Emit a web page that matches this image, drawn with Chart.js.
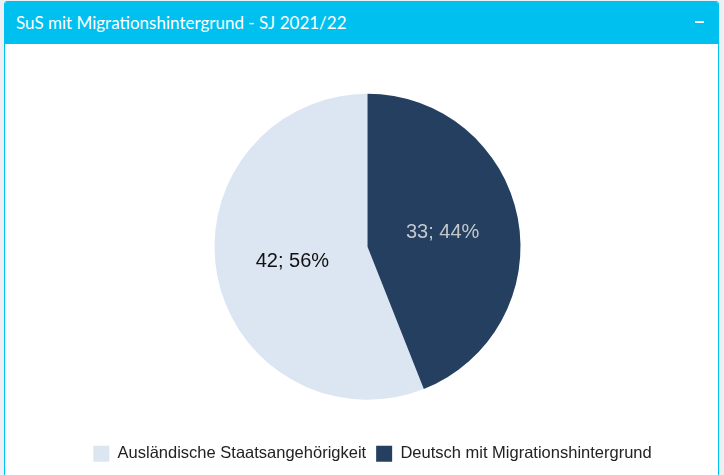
<!DOCTYPE html>
<html>
<head>
<meta charset="utf-8">
<script src="https://cdn.jsdelivr.net/npm/chart.js@4/dist/chart.umd.min.js"></script>
<style>
  html, body { margin:0; padding:0; width:724px; height:475px; overflow:hidden; background:#ecf0f5; }
  #panel { position:absolute; left:4px; top:1px; width:715px; height:480px; background:#fff;
           border:1px solid #00c0ef; border-radius:3px; box-sizing:border-box; overflow:hidden; }
  #header { position:absolute; left:0; top:0; right:0; height:42px; background:#00c0ef; }
  #title { position:absolute; left:11px; top:10px; color:#fff; font-family:Lato, "Open Sans", sans-serif;
           font-size:17px; line-height:22px; white-space:nowrap; }
  #minus { position:absolute; left:690px; top:19px; width:9px; height:2px; background:#fff; }
  #wrap { position:absolute; left:6px; top:43px; width:713px; height:427px; }
</style>
</head>
<body>
<div id="panel">
  <div id="header"><div id="title">SuS mit Migrationshintergrund - SJ 2021/22</div><div id="minus"></div></div>
  <div id="wrap"><canvas id="c"></canvas></div>
</div>
<script>
const categories = ["Ausländische Staatsangehörigkeit", "Deutsch mit Migrationshintergrund"];
const values = [42, 33];
const colors = ["#dce6f2", "#243f60"];
const labelColors = ["#111111", "#c4c8cc"];

const total = values.reduce((a, b) => a + b, 0);
const rotationDeg = 360 * values[1] / total;

const labelPlugin = {
  id: 'sliceLabels',
  afterLayout(chart) {
    const lg = chart.legend;
    if (lg && !lg._shifted) {
      lg._shifted = true;
      const orig = lg.draw.bind(lg);
      lg.draw = function (a) {
        const ctx = chart.ctx;
        ctx.save();
        ctx.translate(5, 0);
        orig(a);
        ctx.restore();
      };
    }
  },
  afterDatasetsDraw(chart) {
    const ctx = chart.ctx;
    const meta = chart.getDatasetMeta(0);
    ctx.save();
    ctx.font = '20px "Liberation Sans", Arial, sans-serif';
    ctx.textAlign = 'center';
    ctx.textBaseline = 'middle';
    meta.data.forEach((arc, i) => {
      const p = arc.tooltipPosition();
      const v = values[i];
      const pct = Math.round(100 * v / total);
      ctx.fillStyle = labelColors[i];
      ctx.fillText(v + '; ' + pct + '%', p.x, p.y);
    });
    ctx.restore();
  }
};

new Chart(document.getElementById('c'), {
  type: 'pie',
  data: {
    labels: categories,
    datasets: [{
      data: values,
      backgroundColor: colors,
      borderWidth: 0,
      radius: 153
    }]
  },
  options: {
    responsive: true,
    maintainAspectRatio: false,
    animation: false,
    rotation: rotationDeg,
    layout: { padding: { top: 13, bottom: 0 } },
    plugins: {
      tooltip: { enabled: false },
      legend: {
        position: 'bottom',
        labels: {
          boxWidth: 16,
          boxHeight: 16,
          padding: 10,
          color: '#222',
          font: { family: '"Liberation Sans", Arial, sans-serif', size: 16.5 }
        }
      }
    }
  },
  plugins: [labelPlugin]
});
</script>
</body>
</html>
